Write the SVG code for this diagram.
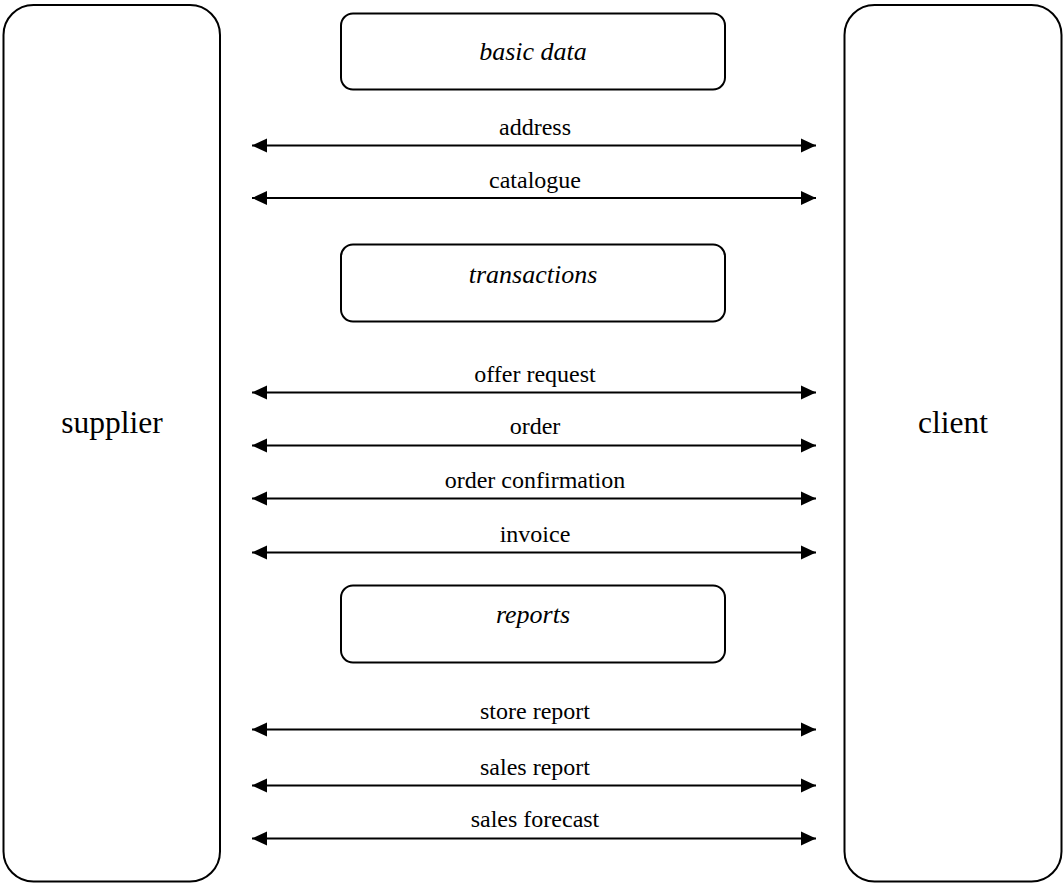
<svg xmlns="http://www.w3.org/2000/svg" width="1064" height="884" viewBox="0 0 1064 884">
<style>
.box{fill:#fff;stroke:#000;stroke-width:2}
.lbl{font-family:"Liberation Serif","Times New Roman",serif;font-size:24px;text-anchor:middle;fill:#000}
.big{font-family:"Liberation Serif","Times New Roman",serif;font-size:31.5px;text-anchor:middle;fill:#000}
.it{font-family:"Liberation Serif","Times New Roman",serif;font-size:26px;font-style:italic;text-anchor:middle;fill:#000}
.con{stroke:#000;stroke-width:2;fill:none;marker-start:url(#ah);marker-end:url(#ah)}
</style>
<defs>
<marker id="ah" markerUnits="userSpaceOnUse" markerWidth="16" markerHeight="16" viewBox="0 0 16 16" refX="15" refY="8" orient="auto-start-reverse">
<path d="M0,1 L15,8 L0,15 Z" fill="#000"/>
</marker>
</defs>
<rect width="1064" height="884" fill="#fff"/>
<g id="supplier"><rect class="box" x="3.5" y="5" width="216.5" height="876.5" rx="30" ry="30"/><text class="big" x="112" y="433">supplier</text></g>
<g id="client"><rect class="box" x="844.5" y="5" width="217" height="876.5" rx="30" ry="30"/><text class="big" x="953" y="433">client</text></g>
<g id="basic-data"><rect class="box" x="341" y="13.5" width="384" height="76" rx="12" ry="12"/><text class="it" x="533" y="60">basic data</text></g>
<g id="transactions"><rect class="box" x="341" y="244.5" width="384" height="77" rx="12" ry="12"/><text class="it" x="533" y="283">transactions</text></g>
<g id="reports"><rect class="box" x="341" y="585.5" width="384" height="77" rx="12" ry="12"/><text class="it" x="533" y="623">reports</text></g>
<g id="connectors">
<line class="con" x1="252" y1="145.5" x2="816" y2="145.5"/>
<line class="con" x1="252" y1="198" x2="816" y2="198"/>
<line class="con" x1="252" y1="392.5" x2="816" y2="392.5"/>
<line class="con" x1="252" y1="445.5" x2="816" y2="445.5"/>
<line class="con" x1="252" y1="498.5" x2="816" y2="498.5"/>
<line class="con" x1="252" y1="552.5" x2="816" y2="552.5"/>
<line class="con" x1="252" y1="729.5" x2="816" y2="729.5"/>
<line class="con" x1="252" y1="785.5" x2="816" y2="785.5"/>
<line class="con" x1="252" y1="838.5" x2="816" y2="838.5"/>
</g>
<g id="labels">
<text class="lbl" x="535" y="135">address</text>
<text class="lbl" x="535" y="188">catalogue</text>
<text class="lbl" x="535" y="382">offer request</text>
<text class="lbl" x="535" y="434">order</text>
<text class="lbl" x="535" y="488">order confirmation</text>
<text class="lbl" x="535" y="542">invoice</text>
<text class="lbl" x="535" y="719">store report</text>
<text class="lbl" x="535" y="775">sales report</text>
<text class="lbl" x="535" y="827">sales forecast</text>
</g>
</svg>
